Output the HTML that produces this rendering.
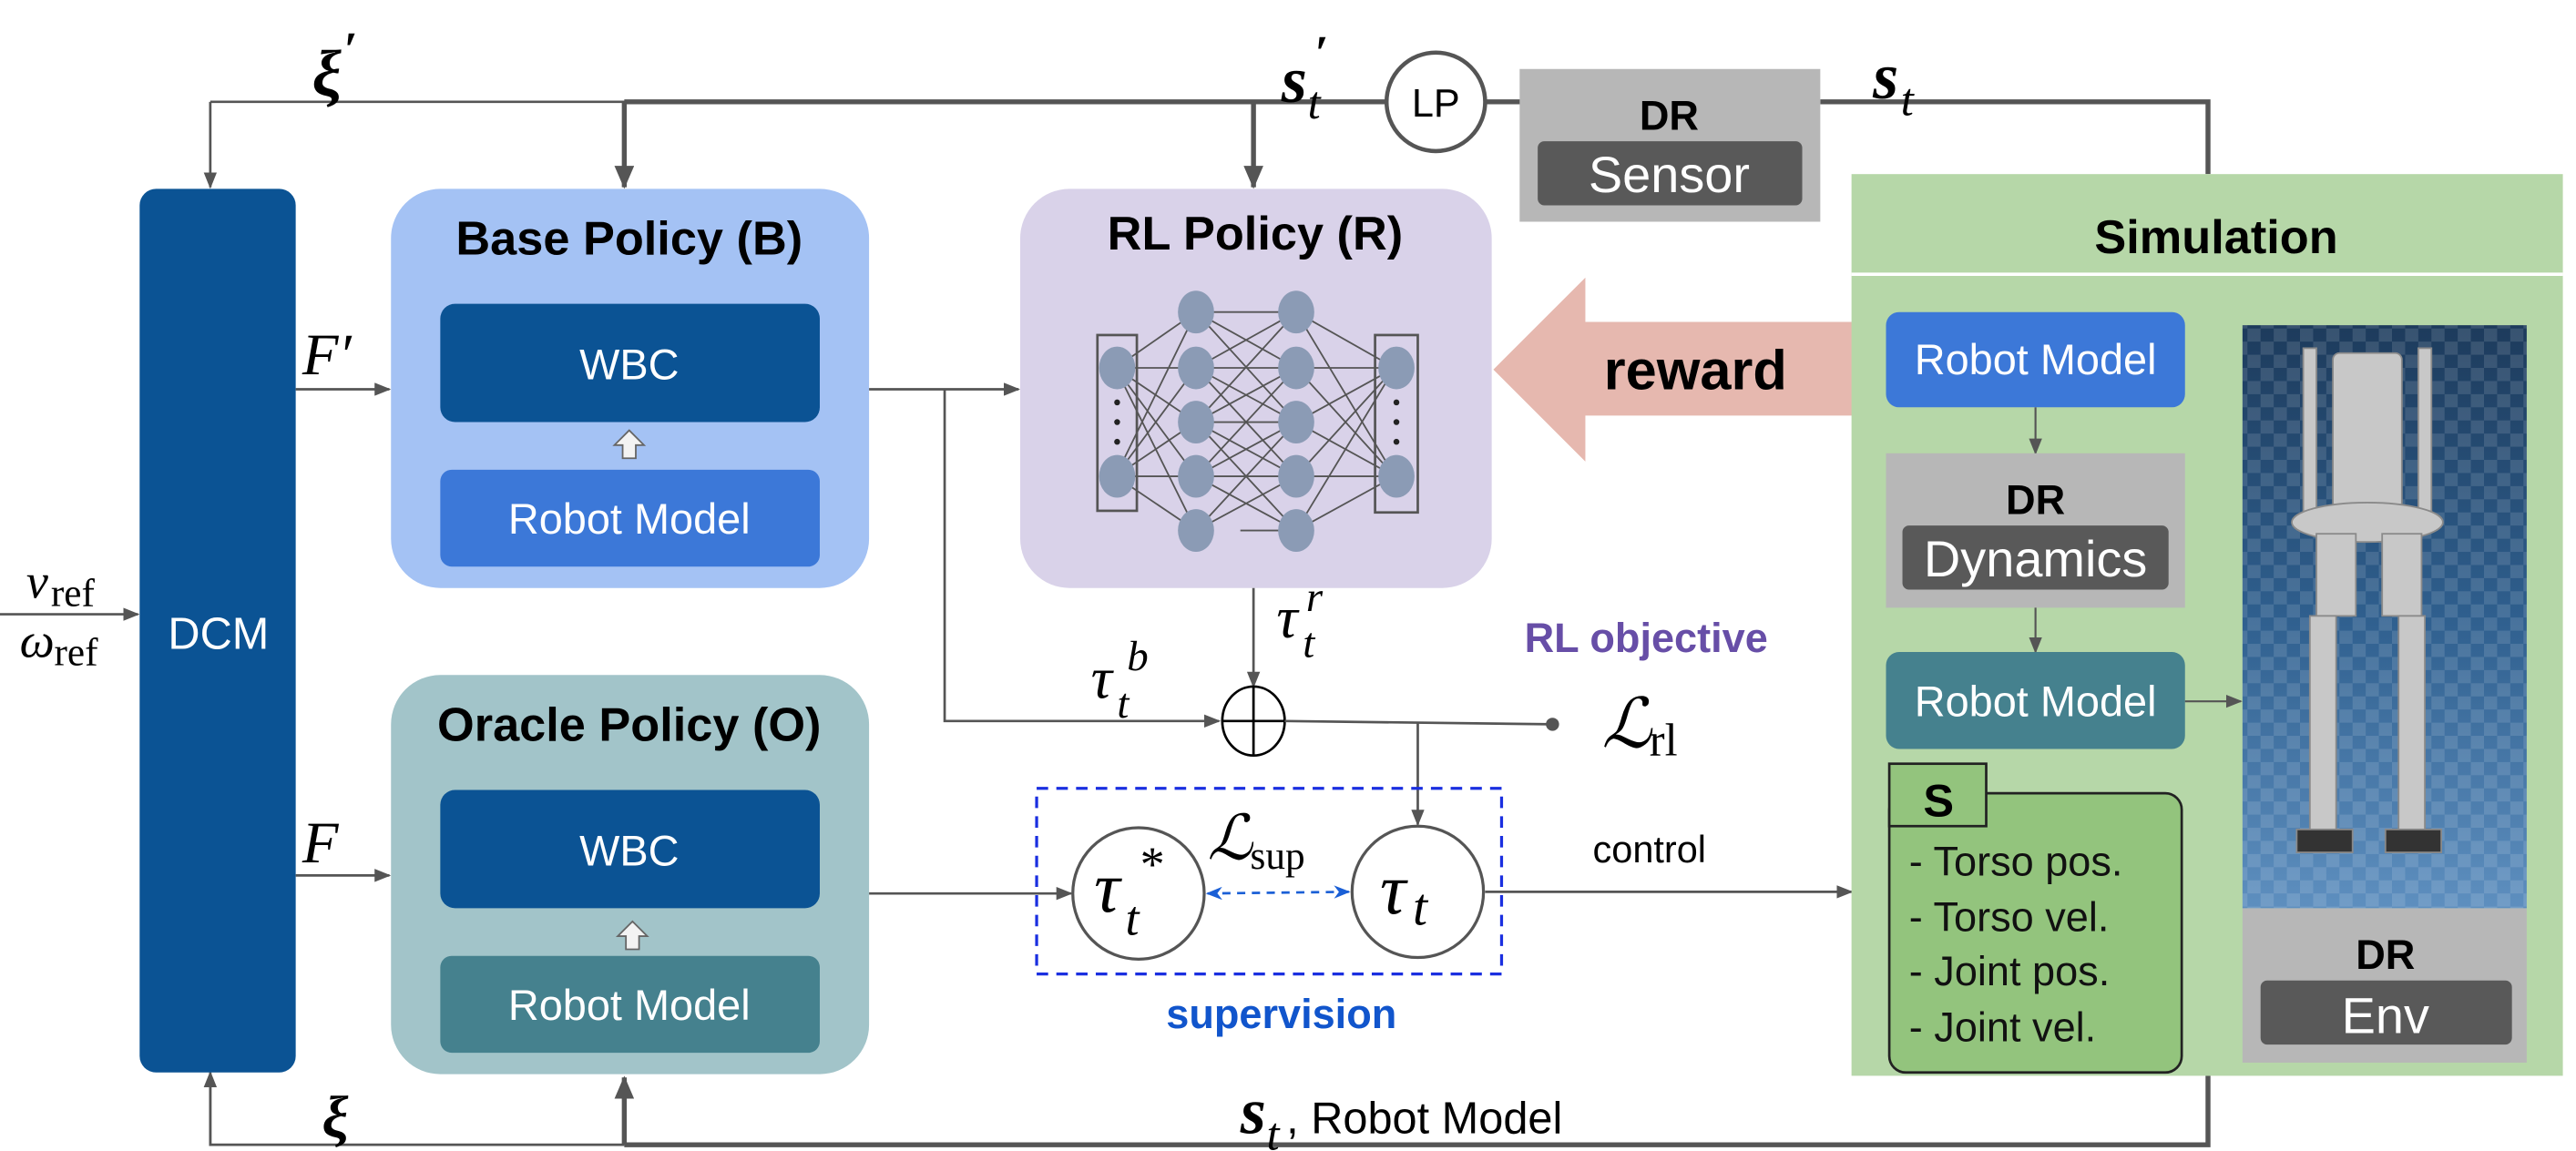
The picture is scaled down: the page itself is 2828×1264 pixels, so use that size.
<!DOCTYPE html>
<html><head><meta charset="utf-8"><style>
html,body{margin:0;padding:0;background:#fff;}
svg{display:block;}
.s{font-family:"Liberation Sans",sans-serif;}
.m{font-family:"Liberation Serif",serif;font-style:italic;}
.r{font-family:"Liberation Serif",serif;}
</style></head><body>
<svg width="2828" height="1264" viewBox="0 0 1568 700.8" preserveAspectRatio="none" xmlns="http://www.w3.org/2000/svg">
<defs>
<marker id="a" markerWidth="10" markerHeight="8" refX="9" refY="4" orient="auto" markerUnits="userSpaceOnUse"><path d="M0,0 L10,4 L0,8 z" fill="#555"/></marker>
<marker id="A" markerWidth="14" markerHeight="12" refX="13" refY="6" orient="auto" markerUnits="userSpaceOnUse"><path d="M0,0 L14,6 L0,12 z" fill="#555"/></marker>
<marker id="b" markerWidth="10" markerHeight="8" refX="9" refY="4" orient="auto-start-reverse" markerUnits="userSpaceOnUse"><path d="M0,0 L10,4 L0,8 L3,4 z" fill="#1a5fd6"/></marker>
<linearGradient id="fl" x1="0" y1="0" x2="0" y2="1"><stop offset="0" stop-color="#1d3b5c"/><stop offset="0.5" stop-color="#2f5f8e"/><stop offset="1" stop-color="#5e8fbf"/></linearGradient>
<pattern id="ck" width="16" height="16" patternUnits="userSpaceOnUse"><rect width="8" height="8" fill="#ffffff" fill-opacity="0.12"/><rect x="8" y="8" width="8" height="8" fill="#ffffff" fill-opacity="0.12"/></pattern>
</defs>

<polyline points="128,62 382,62" fill="none" stroke="#555" stroke-width="1.5"/>
<line x1="128" y1="62" x2="128" y2="114" stroke="#555" stroke-width="1.5" marker-end="url(#a)"/>
<line x1="380" y1="62" x2="845" y2="62" stroke="#555" stroke-width="3"/>
<line x1="380" y1="62" x2="380" y2="114" stroke="#555" stroke-width="3" marker-end="url(#A)"/>
<line x1="763" y1="62" x2="763" y2="114" stroke="#555" stroke-width="3" marker-end="url(#A)"/>
<line x1="903" y1="62" x2="926" y2="62" stroke="#555" stroke-width="3"/>
<polyline points="1108,62 1344,62 1344,106" fill="none" stroke="#555" stroke-width="3"/>
<polyline points="380,697 128,697 128,655" fill="none" stroke="#555" stroke-width="1.5"/>
<line x1="128" y1="697" x2="128" y2="653" stroke="#555" stroke-width="1.5" marker-end="url(#a)"/>
<polyline points="1344,655 1344,697 380,697" fill="none" stroke="#555" stroke-width="3"/>
<line x1="380" y1="697" x2="380" y2="656" stroke="#555" stroke-width="3" marker-end="url(#A)"/>

<text x="190" y="58" class="m" font-size="40" font-weight="bold">ξ</text>
<text x="209" y="40" class="m" font-size="30" font-weight="bold">′</text>
<text x="780" y="62" class="m" font-size="40" font-weight="bold">s</text>
<text x="796" y="72" class="m" font-size="28">t</text>
<text x="800" y="42" class="m" font-size="30" font-weight="bold">′</text>
<text x="1140" y="60" class="m" font-size="40" font-weight="bold">s</text>
<text x="1157" y="70" class="m" font-size="28">t</text>
<text x="196" y="692" class="m" font-size="36" font-weight="bold">ξ</text>
<text x="755" y="690" class="m" font-size="40" font-weight="bold">s</text>
<text x="771" y="700" class="m" font-size="28">t</text>
<text x="783" y="690" class="s" font-size="27">, Robot Model</text>

<circle cx="874" cy="62" r="30" fill="#fff" stroke="#555" stroke-width="2.5"/>
<text x="874" y="71" class="s" font-size="24" text-anchor="middle">LP</text>
<rect x="925" y="42" width="183" height="93" fill="#b7b7b7"/>
<text x="1016" y="79" class="s" font-size="25" font-weight="bold" text-anchor="middle">DR</text>
<rect x="936" y="86" width="161" height="39" rx="4" fill="#595959"/>
<text x="1016" y="117" class="s" font-size="31" fill="#fff" text-anchor="middle">Sensor</text>

<rect x="85" y="115" width="95" height="538" rx="10" fill="#0b5394"/>
<text x="133" y="395" class="s" font-size="27" fill="#fff" text-anchor="middle">DCM</text>
<line x1="0" y1="374" x2="84" y2="374" stroke="#555" stroke-width="1.5" marker-end="url(#a)"/>
<text x="16" y="364" class="m" font-size="30">v</text>
<text x="31" y="369" class="r" font-size="24">ref</text>
<text x="12" y="400" class="m" font-size="30">ω</text>
<text x="33" y="405" class="r" font-size="24">ref</text>

<line x1="180" y1="237" x2="237" y2="237" stroke="#555" stroke-width="1.5" marker-end="url(#a)"/>
<text x="184" y="228" class="m" font-size="36">F′</text>
<line x1="180" y1="533" x2="237" y2="533" stroke="#555" stroke-width="1.5" marker-end="url(#a)"/>
<text x="184" y="525" class="m" font-size="36">F</text>

<rect x="238" y="115" width="291" height="243" rx="30" fill="#a4c2f4"/>
<text x="383" y="155" class="s" font-size="29" font-weight="bold" text-anchor="middle">Base Policy (B)</text>
<rect x="268" y="185" width="231" height="72" rx="9" fill="#0b5394"/>
<text x="383" y="231" class="s" font-size="26" fill="#fff" text-anchor="middle">WBC</text>
<path d="M383,262 L374,271 L379,271 L379,279 L387,279 L387,271 L392,271 Z" fill="#f3f3f3" stroke="#666" stroke-width="1"/>
<rect x="268" y="286" width="231" height="59" rx="7" fill="#3c78d8"/>
<text x="383" y="325" class="s" font-size="26" fill="#fff" text-anchor="middle">Robot Model</text>

<rect x="238" y="411" width="291" height="243" rx="30" fill="#a2c4c9"/>
<text x="383" y="451" class="s" font-size="29" font-weight="bold" text-anchor="middle">Oracle Policy (O)</text>
<rect x="268" y="481" width="231" height="72" rx="9" fill="#0b5394"/>
<text x="383" y="527" class="s" font-size="26" fill="#fff" text-anchor="middle">WBC</text>
<path d="M385,561 L376,570 L381,570 L381,578 L389,578 L389,570 L394,570 Z" fill="#f3f3f3" stroke="#666" stroke-width="1"/>
<rect x="268" y="582" width="231" height="59" rx="7" fill="#45818e"/>
<text x="383" y="621" class="s" font-size="26" fill="#fff" text-anchor="middle">Robot Model</text>

<rect x="621" y="115" width="287" height="243" rx="30" fill="#d9d2e9"/>
<text x="764" y="152" class="s" font-size="29" font-weight="bold" text-anchor="middle">RL Policy (R)</text>
<g stroke="#555" stroke-width="1">
<path d="M679,224 L728,190 M679,224 L728,224 M679,224 L728,257 M679,224 L728,290 M679,224 L728,323 M679,290 L728,190 M679,290 L728,224 M679,290 L728,257 M679,290 L728,290 M679,290 L728,323"/>
<path d="M728,190 L789,190 M728,190 L789,224 M728,224 L789,190 M728,224 L789,257 M728,224 L789,224 M728,257 L789,224 M728,257 L789,290 M728,257 L789,257 M728,290 L789,257 M728,290 L789,323 M728,290 L789,290 M728,323 L789,290 M728,190 L789,257 M728,257 L789,190 M728,290 L789,224 M728,224 L789,290 M728,323 L789,257 M728,257 L789,323 M755,323 L789,323"/>
<path d="M789,190 L849,224 M789,224 L849,224 M789,257 L849,224 M789,290 L849,224 M789,323 L849,224 M789,190 L849,290 M789,224 L849,290 M789,257 L849,290 M789,290 L849,290 M789,323 L849,290"/>
</g>
<rect x="668" y="204" width="24" height="107" fill="none" stroke="#555" stroke-width="1.5"/>
<rect x="837" y="204" width="26" height="108" fill="none" stroke="#555" stroke-width="1.5"/>
<g fill="#8b9bb5">
<ellipse cx="680" cy="224" rx="11" ry="13"/><ellipse cx="680" cy="290" rx="11" ry="13"/>
<ellipse cx="728" cy="190" rx="11" ry="13"/><ellipse cx="728" cy="224" rx="11" ry="13"/><ellipse cx="728" cy="257" rx="11" ry="13"/><ellipse cx="728" cy="290" rx="11" ry="13"/><ellipse cx="728" cy="323" rx="11" ry="13"/>
<ellipse cx="789" cy="190" rx="11" ry="13"/><ellipse cx="789" cy="224" rx="11" ry="13"/><ellipse cx="789" cy="257" rx="11" ry="13"/><ellipse cx="789" cy="290" rx="11" ry="13"/><ellipse cx="789" cy="323" rx="11" ry="13"/>
<ellipse cx="850" cy="224" rx="11" ry="13"/><ellipse cx="850" cy="290" rx="11" ry="13"/>
</g>
<g fill="#222"><circle cx="680" cy="245" r="1.8"/><circle cx="680" cy="257" r="1.8"/><circle cx="680" cy="269" r="1.8"/><circle cx="850" cy="245" r="1.8"/><circle cx="850" cy="257" r="1.8"/><circle cx="850" cy="269" r="1.8"/></g>

<line x1="529" y1="237" x2="620" y2="237" stroke="#555" stroke-width="1.5" marker-end="url(#a)"/>
<polyline points="575,237 575,439 742,439" fill="none" stroke="#555" stroke-width="1.5" marker-end="url(#a)"/>
<line x1="763" y1="358" x2="763" y2="418" stroke="#555" stroke-width="1.5" marker-end="url(#a)"/>
<text x="664" y="425" class="m" font-size="36">τ</text>
<text x="680" y="437" class="m" font-size="26">t</text>
<text x="686" y="408" class="m" font-size="26">b</text>
<text x="777" y="388" class="m" font-size="36">τ</text>
<text x="793" y="400" class="m" font-size="26">t</text>
<text x="795" y="372" class="m" font-size="26">r</text>
<ellipse cx="763" cy="439" rx="19" ry="21" fill="#fff" stroke="#000" stroke-width="1.5"/>
<line x1="744" y1="439" x2="782" y2="439" stroke="#000" stroke-width="1.5"/>
<line x1="763" y1="418" x2="763" y2="460" stroke="#000" stroke-width="1.5"/>
<line x1="782" y1="439" x2="945" y2="441" stroke="#555" stroke-width="1.5"/>
<circle cx="945" cy="441" r="4" fill="#555"/>
<line x1="863" y1="440" x2="863" y2="502" stroke="#555" stroke-width="1.5" marker-end="url(#a)"/>
<text x="1002" y="397" class="s" font-size="25" font-weight="bold" fill="#674ea7" text-anchor="middle">RL objective</text>
<text x="975" y="455" class="m" font-size="42">ℒ</text>
<text x="1004" y="460" class="r" font-size="28">rl</text>

<rect x="631" y="480" width="283" height="113" fill="none" stroke="#1a2fe0" stroke-width="1.8" stroke-dasharray="7,5"/>
<line x1="529" y1="544" x2="652" y2="544" stroke="#555" stroke-width="1.5" marker-end="url(#a)"/>
<ellipse cx="693" cy="544" rx="40" ry="40" fill="#fff" stroke="#555" stroke-width="1.8"/>
<text x="666" y="555" class="m" font-size="44">τ</text>
<text x="685" y="569" class="m" font-size="30">t</text>
<text x="694" y="536" class="r" font-size="30">*</text>
<ellipse cx="863" cy="543" rx="40" ry="40" fill="#fff" stroke="#555" stroke-width="1.8"/>
<text x="840" y="556" class="m" font-size="44">τ</text>
<text x="860" y="563" class="m" font-size="32">t</text>
<line x1="735" y1="544" x2="821" y2="543" stroke="#1a5fd6" stroke-width="1.5" stroke-dasharray="5,4" marker-start="url(#b)" marker-end="url(#b)"/>
<text x="735" y="523" class="m" font-size="38">ℒ</text>
<text x="761" y="529" class="r" font-size="24">sup</text>
<text x="780" y="626" class="s" font-size="25" font-weight="bold" fill="#1155cc" text-anchor="middle">supervision</text>
<line x1="904" y1="543" x2="1127" y2="543" stroke="#555" stroke-width="1.5" marker-end="url(#a)"/>
<text x="1004" y="525" class="s" font-size="23" text-anchor="middle">control</text>

<path d="M909,225 L965,169 L965,196 L1128,196 L1128,253 L965,253 L965,281 Z" fill="#e6b8af"/>
<text x="1032" y="237" class="s" font-size="34" font-weight="bold" text-anchor="middle">reward</text>

<rect x="1127" y="106" width="433" height="549" fill="#b6d7a8"/>
<line x1="1127" y1="167" x2="1560" y2="167" stroke="#fff" stroke-width="2"/>
<text x="1349" y="154" class="s" font-size="29" font-weight="bold" text-anchor="middle">Simulation</text>
<rect x="1148" y="190" width="182" height="58" rx="8" fill="#3c78d8"/>
<text x="1239" y="228" class="s" font-size="26" fill="#fff" text-anchor="middle">Robot Model</text>
<line x1="1239" y1="248" x2="1239" y2="276" stroke="#555" stroke-width="1.2" marker-end="url(#a)"/>
<rect x="1148" y="276" width="182" height="94" fill="#b7b7b7"/>
<text x="1239" y="313" class="s" font-size="25" font-weight="bold" text-anchor="middle">DR</text>
<rect x="1158" y="320" width="162" height="39" rx="4" fill="#595959"/>
<text x="1239" y="351" class="s" font-size="31" fill="#fff" text-anchor="middle">Dynamics</text>
<line x1="1239" y1="370" x2="1239" y2="397" stroke="#555" stroke-width="1.2" marker-end="url(#a)"/>
<rect x="1148" y="397" width="182" height="59" rx="8" fill="#45818e"/>
<text x="1239" y="436" class="s" font-size="26" fill="#fff" text-anchor="middle">Robot Model</text>
<line x1="1330" y1="427" x2="1364" y2="427" stroke="#555" stroke-width="1.2" marker-end="url(#a)"/>

<rect x="1150" y="483" width="178" height="170" rx="10" fill="#93c47d" stroke="#222" stroke-width="1.5"/>
<rect x="1150" y="465" width="59" height="38" fill="#93c47d" stroke="#222" stroke-width="1.5"/>
<text x="1180" y="497" class="s" font-size="28" font-weight="bold" text-anchor="middle">S</text>
<g class="s" font-size="25" fill="#111">
<text x="1162" y="533">- Torso pos.</text>
<text x="1162" y="567">- Torso vel.</text>
<text x="1162" y="600">- Joint pos.</text>
<text x="1162" y="634">- Joint vel.</text>
</g>

<rect x="1365" y="198" width="173" height="355" fill="url(#fl)"/>
<rect x="1365" y="198" width="173" height="355" fill="url(#ck)"/>
<g fill="#c8c8c8" stroke="#8a8a8a" stroke-width="1">
<rect x="1420" y="215" width="42" height="95" rx="4"/>
<rect x="1402" y="212" width="8" height="110"/>
<rect x="1472" y="212" width="8" height="110"/>
<ellipse cx="1441" cy="318" rx="46" ry="12"/>
<rect x="1410" y="325" width="24" height="50"/>
<rect x="1450" y="325" width="24" height="50"/>
<rect x="1406" y="375" width="16" height="135"/>
<rect x="1460" y="375" width="16" height="135"/>
<rect x="1398" y="505" width="34" height="14" fill="#333"/>
<rect x="1452" y="505" width="34" height="14" fill="#333"/>
</g>
<rect x="1365" y="553" width="173" height="94" fill="#b7b7b7"/>
<text x="1452" y="590" class="s" font-size="25" font-weight="bold" text-anchor="middle">DR</text>
<rect x="1376" y="597" width="153" height="39" rx="4" fill="#595959"/>
<text x="1452" y="629" class="s" font-size="31" fill="#fff" text-anchor="middle">Env</text>
</svg>
</body></html>
